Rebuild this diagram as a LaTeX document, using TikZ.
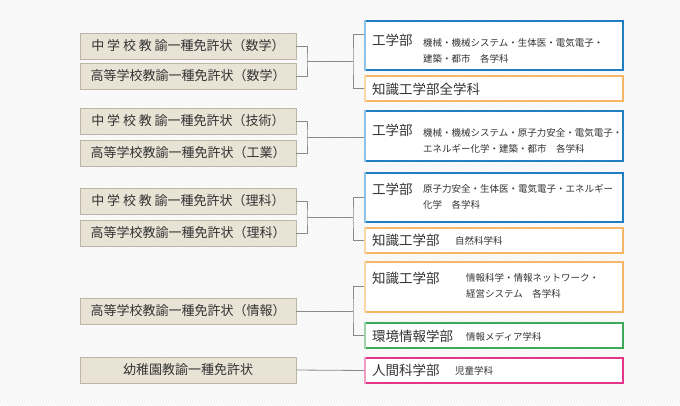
\documentclass[tikz,border=0pt]{standalone}
\usepackage{fontspec}
\setmainfont{Noto Sans CJK JP}[BoldFont=* Bold,AutoFakeBold=0.6]
\usetikzlibrary{patterns}
\definecolor{txt}{HTML}{333333}
\definecolor{lfill}{HTML}{E9E3D5}
\definecolor{ldraw}{HTML}{BDB6A6}
\definecolor{wire}{HTML}{8A8A8A}
\definecolor{blu}{HTML}{1E7FC2}
\definecolor{blul}{HTML}{8CC4E8}
\definecolor{org}{HTML}{F5B766}
\definecolor{orgl}{HTML}{FAD7A6}
\definecolor{grn}{HTML}{3DAA5A}
\definecolor{grnl}{HTML}{9ED4AC}
\definecolor{pnk}{HTML}{E5358A}
\definecolor{pnkl}{HTML}{F29BC4}
\tikzset{
  lic/.style={fill=lfill,draw=ldraw,line width=0.8pt,minimum width=216pt,
    minimum height=26pt,inner sep=0pt,text=txt,font=\fontsize{13}{14}\selectfont},
  fac/.style={fill=white,draw=#1,line width=1.2pt,minimum width=258pt,inner sep=0pt},
  ttl/.style={anchor=west,text=txt,inner sep=0pt,font=\fontsize{13.5}{14}\selectfont},
  sub/.style={anchor=north west,text=txt,inner sep=0pt,align=left,
    font=\fontsize{9.5}{16}\selectfont},
  wirel/.style={draw=wire,line width=0.8pt}
}
\newcommand{\chsp}{\hspace{0.22em}}
\newcommand{\leftedge}[2]{\draw[#2,line width=2pt] ([xshift=1pt]#1.north west) -- ([xshift=1pt]#1.south west);}
\begin{document}
\begin{tikzpicture}[x=1pt,y=-1pt]
\fill[white] (0,0) rectangle (680,405);
\fill[pattern=north east lines,pattern color=gray!14] (0,0) rectangle (680,405);
\useasboundingbox (0,0) rectangle (680,405);

% licences
\node[lic] (l1) at (188,46) {中\chsp 学\chsp 校\chsp 教\chsp 諭一種免許状（数学）};
\node[lic] (l2) at (188,76) {高等学校教諭一種免許状（数学）};
\node[lic] (l3) at (188,121) {中\chsp 学\chsp 校\chsp 教\chsp 諭一種免許状（技術）};
\node[lic] (l4) at (188,153) {高等学校教諭一種免許状（工業）};
\node[lic] (l5) at (188,201) {中\chsp 学\chsp 校\chsp 教\chsp 諭一種免許状（理科）};
\node[lic] (l6) at (188,233) {高等学校教諭一種免許状（理科）};
\node[lic] (l7) at (188,311) {高等学校教諭一種免許状（情報）};
\node[lic] (l8) at (188,370) {幼稚園教諭一種免許状};

% faculties
\node[fac=blu,minimum height=49pt] (f1) at (494,45.5) {};
\leftedge{f1}{blul}
\node[ttl] at (372,40) {工学部};
\node[sub] at (423,38) {機械・機械システム・生体医・電気電子・\\建築・都市\quad 各学科};
\node[fac=org,minimum height=25pt] (f2) at (494,88.5) {};
\leftedge{f2}{orgl}
\node[ttl] at (372,89) {知識工学部全学科};

\node[fac=blu,minimum height=50pt] (f3) at (494,136) {};
\leftedge{f3}{blul}
\node[ttl] at (372,130) {工学部};
\node[sub] at (423,128) {機械・機械システム・原子力安全・電気電子・\\エネルギー化学・建築・都市\quad 各学科};

\node[fac=blu,minimum height=49pt] (f4) at (494,197.5) {};
\leftedge{f4}{blul}
\node[ttl] at (372,189) {工学部};
\node[sub] at (423,184) {原子力安全・生体医・電気電子・エネルギー\\化学\quad 各学科};
\node[fac=org,minimum height=25pt] (f5) at (494,240.5) {};
\leftedge{f5}{orgl}
\node[ttl] at (372,240) {知識工学部};
\node[sub,anchor=west] at (455,241) {自然科学科};

\node[fac=org,minimum height=50pt] (f6) at (494,287) {};
\leftedge{f6}{orgl}
\node[ttl] at (372,278) {知識工学部};
\node[sub] at (466,273) {情報科学・情報ネットワーク・\\経営システム\quad 各学科};
\node[fac=grn,minimum height=25pt] (f7) at (494,335.5) {};
\leftedge{f7}{grnl}
\node[ttl] at (372,336) {環境情報学部};
\node[sub,anchor=west] at (466,337) {情報メディア学科};

\node[fac=pnk,minimum height=25pt] (f8) at (494,370.5) {};
\leftedge{f8}{pnkl}
\node[ttl] at (372,370) {人間科学部};
\node[sub,anchor=west] at (455,371) {児童学科};

% connectors
\coordinate (j1) at (307,61); \coordinate (k1) at (353,61);
\draw[wirel] (l1.east) -| (j1) |- (l2.east);
\draw[wirel] (j1) -- (k1);
\draw[wirel] (f1.west |- 0,34) -| (k1) |- (f2.west);

\coordinate (j2) at (307,137);
\draw[wirel] (l3.east) -| (j2) |- (l4.east);
\draw[wirel] (j2) -- (f3.west |- j2);

\coordinate (j3) at (307,217); \coordinate (k3) at (353,217);
\draw[wirel] (l5.east) -| (j3) |- (l6.east);
\draw[wirel] (j3) -- (k3);
\draw[wirel] (f4.west |- 0,197) -| (k3) |- (f5.west);

\coordinate (k4) at (353,311);
\draw[wirel] (l7.east) -- (k4);
\draw[wirel] (f6.west |- 0,286) -| (k4) |- (f7.west);

\draw[wirel] (l8.east) -- (f8.west);
\end{tikzpicture}
\end{document}
